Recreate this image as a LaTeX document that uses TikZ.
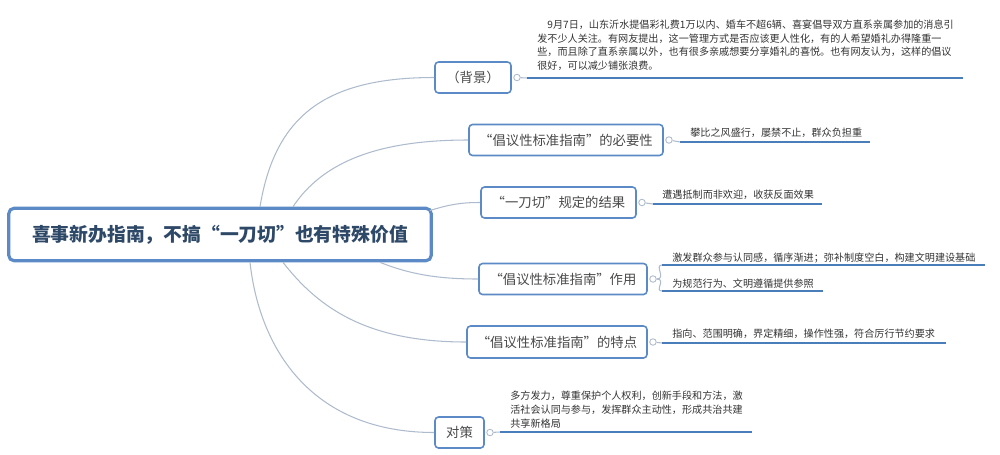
\documentclass[tikz,border=0pt]{standalone}
\usepackage{fontspec}
\setmainfont{Noto Sans CJK SC}
\usetikzlibrary{positioning}
\definecolor{boxblue}{HTML}{5B8AC6}
\definecolor{titleblue}{HTML}{2E4868}
\definecolor{lineblue}{HTML}{4A7EBB}
\definecolor{linkgray}{HTML}{AEBBCD}
\definecolor{labelgray}{HTML}{4A4A4A}
\definecolor{notegray}{HTML}{333333}
\tikzset{
x=0.02cm, y=-0.02cm, % one unit is one pixel of the sketch, y runs down
topic/.style={draw=boxblue, rounded corners=2pt, line width=0.9pt, fill=white, minimum height=0.62cm, inner sep=0pt, font=\fontsize{7.6}{9}\selectfont, text=labelgray}, % the branch boxes
branch/.style={draw=linkgray, line width=0.6pt}, % the curves from the title
knob/.style={circle, draw=linkgray, fill=white, line width=0.5pt, minimum size=0.13cm, inner sep=0pt}, % small circle after a box
leaf/.style={draw=lineblue, line width=1.2pt}, % the line under a detail
note/.style={anchor=base west, inner sep=0pt, font=\fontsize{5.75}{7.6}\selectfont, text=notegray, align=left}, % the text of a detail (base = last line)
}

\begin{document}
\begin{tikzpicture}
\useasboundingbox (0,0) rectangle (1000,454);

% the title and its branches
\node[draw=boxblue, line width=1.8pt, rounded corners=3pt, fill=white, minimum width=8.45cm, minimum height=1.05cm, font=\fontsize{10.7}{13}\selectfont\bfseries, text=titleblue] (title) at (220,234.5) {喜事新办指南，不搞“一刀切”也有特殊价值};

\node[topic, minimum width=1.52cm] (bg) at (473,77.5) {（背景）};
\node[topic, minimum width=3.88cm] (need) at (566,140) {“倡议性标准指南”的必要性};
\node[topic, minimum width=3.1cm] (cut) at (558.5,202.5) {“一刀切”规定的结果};
\node[topic, minimum width=3.36cm] (role) at (563,279) {“倡议性标准指南”作用};
\node[topic, minimum width=3.6cm, minimum height=0.64cm] (feat) at (557,342) {“倡议性标准指南”的特点};
\node[topic, minimum width=0.98cm] (plan) at (459.5,432.5) {对策};

\draw[branch] ([xshift=0.8cm]title.north) .. controls +(15,-90) and +(-110,0) .. (bg.west);
\draw[branch] ([xshift=1.46cm]title.north) .. controls +(30,-45) and +(-90,0) .. (need.west);
\draw[branch] ([xshift=-0.06cm,yshift=0.48cm]title.east) .. controls +(20,-6) and +(-20,0) .. (cut.west);
\draw[branch] ([xshift=3.2cm]title.south) .. controls +(30,12) and +(-40,0) .. (role.west);
\draw[branch] ([xshift=1.26cm]title.south) .. controls +(35,45) and +(-100,0) .. (feat.west);
\draw[branch] ([xshift=0.6cm]title.south) .. controls +(10,90) and +(-120,0) .. (plan.west);

% the knobs
\node[knob, right=0.03cm of bg] (bgk) {};
\node[knob, right=0.03cm of need] (needk) {};
\node[knob, right=0.03cm of cut] (cutk) {};
\node[knob, right=0.03cm of role] (rolek) {};
\node[knob, right=0.03cm of feat] (featk) {};
\node[knob, right=0.03cm of plan] (plank) {};

% where the lines under the details start and end
\coordinate (bga) at (527,78);   \coordinate (bgb) at (963,78);
\coordinate (needa) at (680,142); \coordinate (needb) at (870,142);
\coordinate (cuta) at (653,204);  \coordinate (cutb) at (822,204);
\coordinate (rolea) at (662,265); \coordinate (roleb) at (985,265);
\coordinate (rolec) at (662,291); \coordinate (roled) at (823,291);
\coordinate (feata) at (662,343); \coordinate (featb) at (946,343);
\coordinate (plana) at (500,432); \coordinate (planb) at (752,432);

\draw[branch] (bgk) -- (bga);
\draw[branch] (needk) -- (needa);
\draw[branch] (cutk) -- (cuta);
\draw[branch] (rolek.east) .. controls +(10,0) and +(-8,0) .. (rolea);
\draw[branch] (rolek.east) .. controls +(10,0) and +(-8,0) .. (rolec);
\draw[branch] (featk) -- (feata);
\draw[branch] (plank) -- (plana);

\draw[leaf] (bga) -- (bgb);
\draw[leaf] (needa) -- (needb);
\draw[leaf] (cuta) -- (cutb);
\draw[leaf] (rolea) -- (roleb);
\draw[leaf] (rolec) -- (roled);
\draw[leaf] (feata) -- (featb);
\draw[leaf] (plana) -- (planb);

% the details
\node[note] (bgtext) at (537,69) {\hspace*{1em}9月7日，山东沂水提倡彩礼费1万以内、婚车不超6辆、喜宴倡导双方直系亲属参加的消息引\\
发不少人关注。有网友提出，这一管理方式是否应该更人性化，有的人希望婚礼办得隆重一\\
些，而且除了直系亲属以外，也有很多亲戚想要分享婚礼的喜悦。也有网友认为，这样的倡议\\
很好，可以减少铺张浪费。};
\node[note] (needtext) at (690,136) {攀比之风盛行，屡禁不止，群众负担重};
\node[note] (cuttext) at (662,198) {遭遇抵制而非欢迎，收获反面效果};
\node[note] (roletexta) at (672,261) {激发群众参与认同感，循序渐进；弥补制度空白，构建文明建设基础};
\node[note] (roletextb) at (672,287) {为规范行为、文明遵循提供参照};
\node[note] (feattext) at (672,337) {指向、范围明确，界定精细，操作性强，符合厉行节约要求};
\node[note, font=\fontsize{5.75}{7.9}\selectfont] (plantext) at (510,427) {多方发力，尊重保护个人权利，创新手段和方法，激\\
活社会认同与参与，发挥群众主动性，形成共治共建\\
共享新格局};

\end{tikzpicture}
\end{document}
